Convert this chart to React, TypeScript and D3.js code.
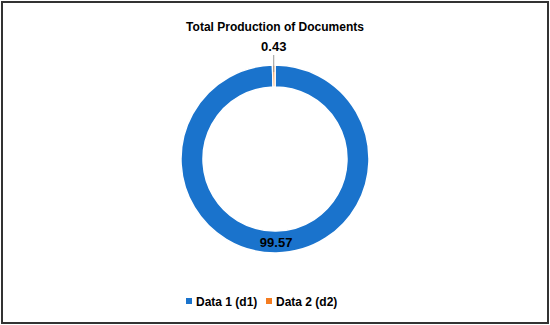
import React, { useEffect, useRef } from 'react';
import * as d3 from 'd3';

// chart data
const categories = ['Data 1 (d1)', 'Data 2 (d2)'];
const values = [99.57, 0.43];
const colors = ['#1a73cc', '#f47c20'];
const title = 'Total Production of Documents';

const W = 550, H = 325;

export default function App() {
  const ref = useRef<SVGSVGElement>(null);

  useEffect(() => {
    const svg = d3.select(ref.current);
    svg.selectAll('*').remove();

    // frame
    svg.append('rect')
      .attr('x', 2).attr('y', 2)
      .attr('width', W - 4).attr('height', H - 4)
      .attr('fill', '#fff')
      .attr('stroke', '#333').attr('stroke-width', 2);

    svg.append('text')
      .attr('x', W / 2).attr('y', 31)
      .attr('text-anchor', 'middle')
      .attr('font-family', 'Liberation Sans, sans-serif')
      .attr('font-weight', 'bold')
      .attr('font-size', 12)
      .text(title);

    const cx = 275, cy = 159;
    const outerR = 94, innerR = 72;

    const data = categories.map((c, i) => ({ name: c, value: values[i], color: colors[i] }));
    const pie = d3.pie<any>().sort(null).value(d => d.value);
    const arc = d3.arc<any>().innerRadius(innerR).outerRadius(outerR);
    const arcs = pie(data);

    const g = svg.append('g').attr('transform', 'translate(' + cx + ',' + cy + ')');

    g.selectAll('path')
      .data(arcs)
      .enter()
      .append('path')
      .attr('d', arc)
      .attr('fill', d => d.data.color)
      .attr('stroke', '#fff')
      .attr('stroke-width', 1.5);

    // labels
    arcs.forEach(a => {
      const mid = (a.startAngle + a.endAngle) / 2;
      if (a.data.value > 5) {
        const r = (innerR + outerR) / 2;
        g.append('text')
          .attr('x', r * Math.sin(mid))
          .attr('y', -r * Math.cos(mid) + 5)
          .attr('text-anchor', 'middle')
          .attr('font-family', 'Liberation Sans, sans-serif')
          .attr('font-weight', 'bold')
          .attr('font-size', 13)
          .text(a.data.value.toFixed(2));
      } else {
        // small slice: leader line + label outside
        const x = outerR * Math.sin(mid);
        g.append('line')
          .attr('x1', x).attr('y1', -outerR + 7)
          .attr('x2', x).attr('y2', -outerR - 10)
          .attr('stroke', '#999').attr('stroke-width', 1);
        g.append('text')
          .attr('x', x)
          .attr('y', -outerR - 14)
          .attr('text-anchor', 'middle')
          .attr('font-family', 'Liberation Sans, sans-serif')
          .attr('font-weight', 'bold')
          .attr('font-size', 13)
          .text(a.data.value.toFixed(2));
      }
    });

    // legend
    const legend = svg.append('g').attr('transform', 'translate(186,302)');
    const offsets = [0, 80];
    categories.forEach((c, i) => {
      const lg = legend.append('g').attr('transform', 'translate(' + offsets[i] + ',0)');
      lg.append('rect')
        .attr('x', 0).attr('y', -4)
        .attr('width', 6).attr('height', 6)
        .attr('fill', colors[i]);
      lg.append('text')
        .attr('x', 10).attr('y', 4)
        .attr('font-family', 'Liberation Sans, sans-serif')
        .attr('font-weight', 'bold')
        .attr('font-size', 12)
        .text(c);
    });
  }, []);

  return (
    <svg ref={ref} width={W} height={H} style={{ position: 'absolute', left: 0, top: 0 }} />
  );
}
